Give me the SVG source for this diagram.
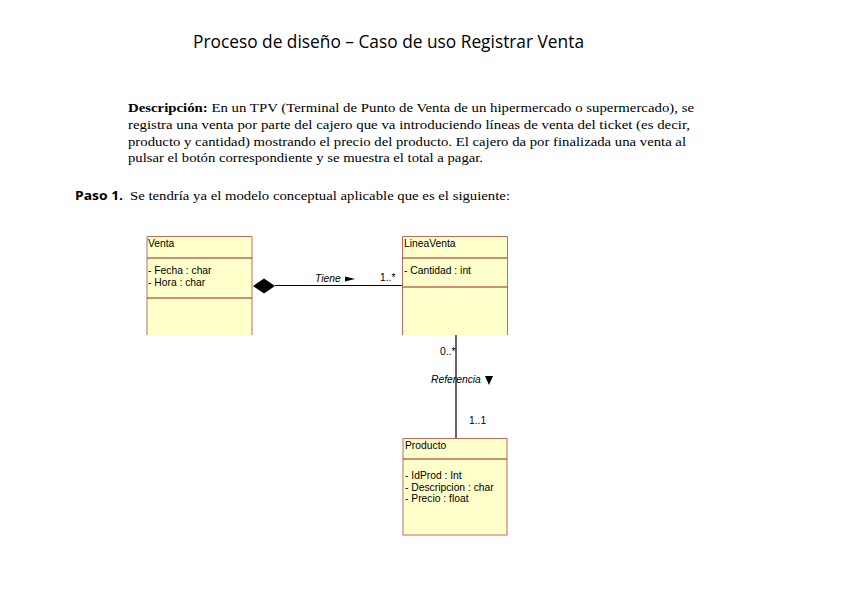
<svg xmlns="http://www.w3.org/2000/svg" width="848" height="599" viewBox="0 0 848 599">
<style>
.title{font-family:"Open Sans","Liberation Sans",sans-serif;font-size:18px;fill:#000}
.desc{font-family:"Liberation Serif",serif;font-size:13px;fill:#000}
.paso{font-family:"Open Sans","Liberation Sans",sans-serif;font-size:12.5px;font-weight:bold;fill:#000}
.box{fill:#FFFFCC;stroke:#B87060;stroke-width:1}
.sep{stroke:#A02020;stroke-width:1}
.uml{font-family:"Liberation Sans",Arial,sans-serif;font-size:10.3px;fill:#000}
.lbl{font-family:"Liberation Sans",Arial,sans-serif;font-size:10.3px;fill:#000}
.conn{stroke:#000;stroke-width:1.2;fill:none}
</style>
<rect width="848" height="599" fill="#fff"/>
<text class="title" x="193" y="48" textLength="391" lengthAdjust="spacingAndGlyphs">Proceso de diseño – Caso de uso Registrar Venta</text>
<g id="descripcion">
<text class="desc" x="128" y="112" textLength="566" lengthAdjust="spacingAndGlyphs"><tspan font-weight="bold">Descripción:</tspan> En un TPV (Terminal de Punto de Venta de un hipermercado o supermercado), se</text>
<text class="desc" x="128" y="129" textLength="562" lengthAdjust="spacingAndGlyphs">registra una venta por parte del cajero que va introduciendo líneas de venta del ticket (es decir,</text>
<text class="desc" x="128" y="146" textLength="558" lengthAdjust="spacingAndGlyphs">producto y cantidad) mostrando el precio del producto. El cajero da por finalizada una venta al</text>
<text class="desc" x="128" y="162" textLength="355" lengthAdjust="spacingAndGlyphs">pulsar el botón correspondiente y se muestra el total a pagar.</text>
</g>
<g id="paso1">
<text class="paso" x="75" y="200" textLength="48" lengthAdjust="spacingAndGlyphs">Paso 1.</text>
<text class="desc" x="130" y="200" textLength="380" lengthAdjust="spacingAndGlyphs">Se tendría ya el modelo conceptual aplicable que es el siguiente:</text>
</g>
<g id="connectors">
<line class="conn" x1="275" y1="285.5" x2="402" y2="285.5"/>
<polygon points="253,286 264,278.5 275,286 264,293.5" fill="#000"/>
<text class="lbl" x="315" y="282" font-style="italic">Tiene</text>
<polygon points="345,276.5 355,279 345,281.5" fill="#000"/>
<text class="lbl" x="380" y="281">1..*</text>
<line class="conn" x1="456" y1="335" x2="456" y2="438"/>
<text class="lbl" x="440" y="355">0..*</text>
<text class="lbl" x="431" y="383" font-style="italic">Referencia</text>
<polygon points="485,376 493,376 489,385" fill="#000"/>
<text class="lbl" x="469" y="424">1..1</text>
</g>
<g id="Venta">
<path class="box" d="M147,335 V236.5 H252 V335"/>
<line class="sep" x1="147" y1="258" x2="252" y2="258"/>
<line class="sep" x1="147" y1="298" x2="252" y2="298"/>
<text class="uml" x="148" y="247">Venta</text>
<text class="uml" x="148" y="274">- Fecha : char</text>
<text class="uml" x="148" y="286">- Hora : char</text>
</g>
<g id="LineaVenta">
<path class="box" d="M402.5,335 V236.5 H507.5 V335"/>
<line class="sep" x1="402.5" y1="258" x2="507.5" y2="258"/>
<line class="sep" x1="402.5" y1="287" x2="507.5" y2="287"/>
<text class="uml" x="404" y="247">LineaVenta</text>
<text class="uml" x="404" y="274">- Cantidad : int</text>
</g>
<g id="Producto">
<rect class="box" x="403" y="438.5" width="104" height="96.5"/>
<line class="sep" x1="403" y1="459" x2="507" y2="459"/>
<text class="uml" x="405" y="449">Producto</text>
<text class="uml" x="405" y="479">- IdProd : Int</text>
<text class="uml" x="405" y="491">- Descripcion : char</text>
<text class="uml" x="405" y="502">- Precio : float</text>
</g>
</svg>
